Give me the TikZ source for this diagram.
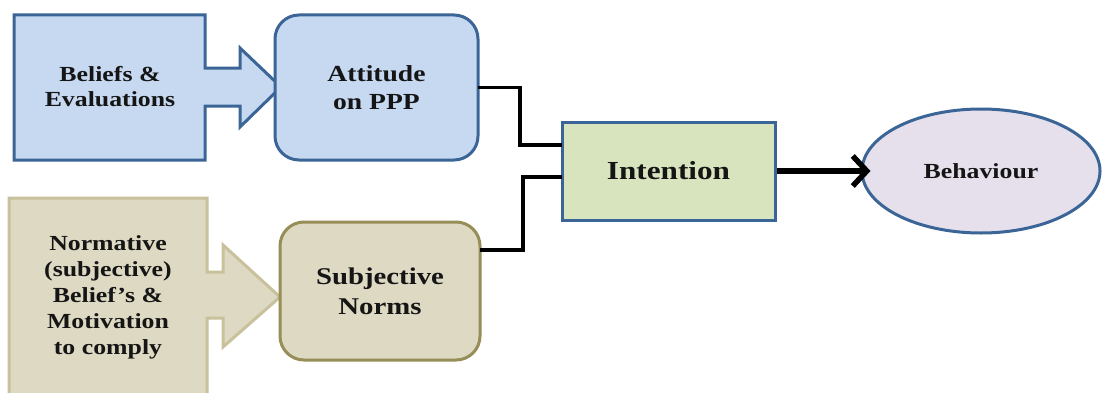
\documentclass[tikz,border=0pt]{standalone}
\usepackage{fontspec}
\newfontfamily\tf[FakeStretch=1.2]{Liberation Serif}
\usetikzlibrary{calc,shapes.geometric,arrows.meta}
\definecolor{blueFill}{HTML}{C6D9F1}
\definecolor{blueLine}{HTML}{3B6596}
\definecolor{greenFill}{HTML}{D7E4BD}
\definecolor{lilacFill}{HTML}{E5E0EC}
\definecolor{khakiFill}{HTML}{DDD9C3}
\definecolor{khakiLine}{HTML}{C8C19C}
\definecolor{oliveLine}{HTML}{978D57}
\definecolor{txt}{HTML}{151515}
\tikzset{
  lbl/.style={text=txt, align=center, inner sep=0pt},
  roundbox/.style={draw, line width=3pt, rounded corners=24pt, lbl},
  link/.style={draw=black, line width=3.5pt, line cap=rect}
}
\newcommand{\fs}[2]{\tf\bfseries\fontsize{#1}{#2}\selectfont}
\begin{document}
\begin{tikzpicture}[x=1pt,y=1pt]
\clip (0,0) rectangle (1102,392);
\fill[white] (0,0) rectangle (1102,392);

% callout arrows feeding the two construct boxes
\draw[line width=3pt, draw=blueLine, fill=blueFill, line join=miter]
  (14,377) -- (205,377) -- (205,324) -- (240,324) -- (240,344) -- (281,305)
  -- (240,265) -- (240,286) -- (205,286) -- (205,232) -- (14,232) -- cycle;
\node[lbl, font=\fs{21.5}{25}] (bel) at (110,305) {Beliefs \&\\Evaluations};

\draw[line width=3pt, draw=khakiLine, fill=khakiFill, line join=miter]
  (9,194) -- (207,194) -- (207,120) -- (223,120) -- (223,147) -- (280,95)
  -- (223,45) -- (223,74) -- (207,74) -- (207,-20) -- (9,-20) -- cycle;
\node[lbl, font=\fs{21.5}{26}] (nrm) at (108,95)
  {Normative\\(subjective)\\Belief’s \&\\Motivation\\to comply};

% construct boxes
\node[roundbox, draw=blueLine, fill=blueFill, minimum width=203pt, minimum height=145pt,
      font=\fs{23}{28}] (att) at (376.5,304.5) {Attitude\\on PPP};
\node[roundbox, draw=oliveLine, fill=khakiFill, minimum width=200pt, minimum height=138pt,
      font=\fs{24}{30}] (sn) at (380,101) {Subjective\\Norms};

\node[draw=blueLine, fill=greenFill, line width=3pt, lbl, minimum width=213pt,
      minimum height=98pt, font=\fs{26}{30}] (int) at (668.5,221) {Intention};

\node[ellipse, draw=blueLine, fill=lilacFill, line width=3pt, lbl, minimum width=238pt,
      minimum height=124pt, font=\fs{21.5}{24}] (beh) at (981,221) {Behaviour};

% elbow connectors into Intention
\draw[link] (att.east) -| (520,247) -- ($(int.west)+(0,26)$);
\draw[link] ($(sn.east)+(0,41)$) -| (523,215) -- ($(int.west)+(0,-6)$);

% Intention leads to Behaviour
\draw[line width=5.5pt, -{Straight Barb[length=14pt,width=30pt,line width=5.5pt]}]
  (int.east) -- ([xshift=10pt]beh.west);
\end{tikzpicture}
\end{document}
